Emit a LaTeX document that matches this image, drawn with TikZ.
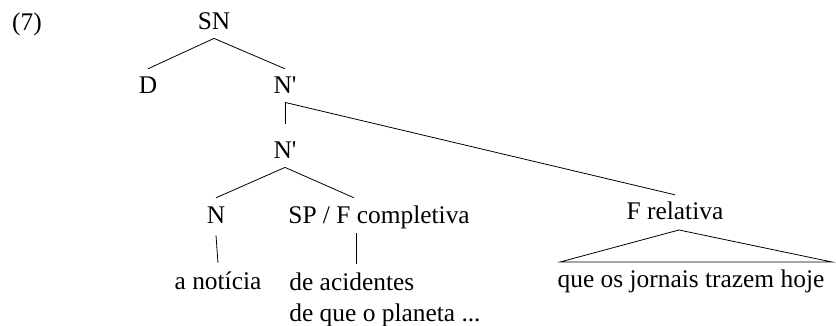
\documentclass[tikz,border=0pt]{standalone}
\usepackage{fontspec}
\setmainfont{Liberation Serif}
\usetikzlibrary{positioning}
\usetikzlibrary{calc}

\begin{document}
\begin{tikzpicture}[x=0.5pt, y=-0.5pt,
    font=\fontsize{12.7}{15.5}\selectfont,
    cat/.style={inner xsep=1pt, inner ysep=4pt, text height=8.4pt, text depth=0pt, anchor=base},
    words/.style={inner sep=0pt, anchor=base}]
    \useasboundingbox (0,0) rectangle (836,326);

    % example number
    \node[words] (num) at (27, 31) {(7)};

    % upper part
    \node[cat] (SN) at (214, 30) {SN};
    \node[cat] (D) at (148, 94) {D};
    \node[cat] (N1) at (285, 94) {N\textquotesingle};
    \draw (SN.south) -- (D.north);
    \draw (SN.south) -- (N1.north);

    % lower N'
    \node[cat] (N2) at (285, 159) {N\textquotesingle};
    \draw (N1.south) -- ([yshift=5pt]N2.north);
    \node[cat] (N) at (216, 223) {N};
    \node[cat, anchor=base west] (SP) at (286, 223) {SP / F completiva};
    \coordinate (SPtop) at ([xshift=34pt]SP.north west);
    \coordinate (SPbot) at ([xshift=35pt]SP.south west);
    \draw (N2.south) -- (N.north);
    \draw (N2.south) -- (SPtop);

    % leaves
    \node[words] (noticia) at (218, 289) {a notícia};
    \node[words, anchor=north west, align=left] (acid) at (289, 272) {de acidentes\\de que o planeta ...};
    \draw ([yshift=-2pt]N.south) -- ([yshift=4pt]noticia.north);
    \draw ([yshift=-1pt]SPbot) -- ([yshift=4pt]SPbot |- acid.north);

    % relative clause
    \node[cat] (Frel) at (675, 220) {F relativa};
    \draw (N1.south) -- (Frel.north);
    \node[words] (que) at (691, 287) {que os jornais trazem hoje};
    \coordinate (apex) at (679, 230);
    \draw (apex) -- (560, 262) -- (832, 262) -- cycle;
\end{tikzpicture}
\end{document}
